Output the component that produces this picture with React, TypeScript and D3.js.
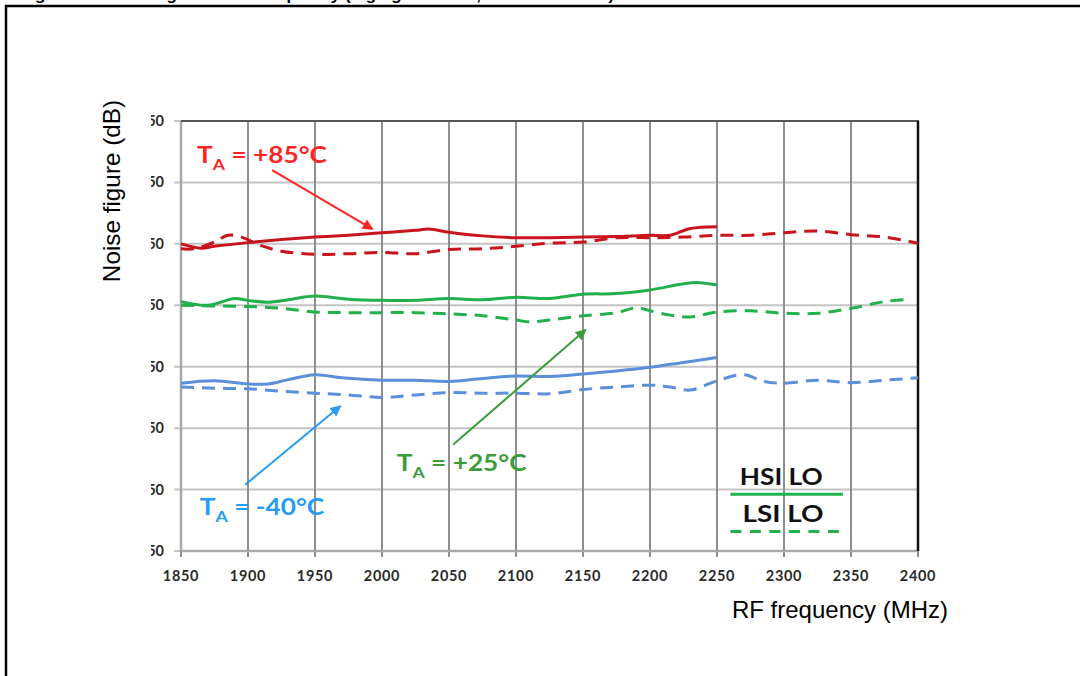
import * as d3 from 'd3'

// frequency grid (MHz) and y tick values (dB)
const xTicks = [1850, 1900, 1950, 2000, 2050, 2100, 2150, 2200, 2250, 2300, 2350, 2400]
const yTicks = [4.5, 5.5, 6.5, 7.5, 8.5, 9.5, 10.5, 11.5]

// TA = +85°C
const hot_hsi_f = [1850, 1865, 1875, 1900, 1925, 1950, 1975, 2000, 2025, 2035, 2050, 2075, 2100, 2125, 2150, 2175, 2200, 2215, 2230, 2250]
const hot_hsi_v = [9.5, 9.43, 9.46, 9.52, 9.57, 9.61, 9.64, 9.68, 9.72, 9.74, 9.69, 9.63, 9.6, 9.6, 9.61, 9.62, 9.64, 9.64, 9.75, 9.78]
const hot_lsi_f = [1850, 1860, 1875, 1885, 1895, 1910, 1925, 1950, 1975, 2000, 2025, 2050, 2075, 2100, 2125, 2150, 2175, 2200, 2225, 2250, 2275, 2300, 2325, 2350, 2375, 2400]
const hot_lsi_v = [9.42, 9.42, 9.53, 9.64, 9.61, 9.47, 9.38, 9.33, 9.34, 9.36, 9.34, 9.41, 9.42, 9.46, 9.51, 9.53, 9.6, 9.6, 9.61, 9.64, 9.64, 9.68, 9.71, 9.65, 9.61, 9.51]

// TA = +25°C
const room_hsi_f = [1850, 1870, 1890, 1900, 1915, 1930, 1950, 1975, 2000, 2025, 2050, 2075, 2100, 2125, 2150, 2175, 2200, 2225, 2235, 2250]
const room_hsi_v = [8.56, 8.5, 8.61, 8.58, 8.55, 8.59, 8.65, 8.6, 8.58, 8.58, 8.61, 8.59, 8.63, 8.61, 8.68, 8.69, 8.75, 8.85, 8.87, 8.83]
const room_lsi_f = [1850, 1875, 1900, 1925, 1950, 1975, 2000, 2025, 2050, 2075, 2100, 2110, 2125, 2150, 2175, 2190, 2200, 2215, 2230, 2250, 2275, 2300, 2325, 2350, 2375, 2395]
const room_lsi_v = [8.5, 8.49, 8.48, 8.45, 8.39, 8.38, 8.38, 8.38, 8.36, 8.33, 8.26, 8.23, 8.26, 8.33, 8.38, 8.46, 8.41, 8.34, 8.31, 8.39, 8.41, 8.37, 8.37, 8.45, 8.56, 8.6]

// TA = -40°C
const cold_hsi_f = [1850, 1875, 1900, 1915, 1930, 1950, 1970, 2000, 2025, 2050, 2075, 2100, 2125, 2150, 2175, 2200, 2225, 2250]
const cold_hsi_v = [7.23, 7.27, 7.22, 7.22, 7.29, 7.37, 7.32, 7.28, 7.28, 7.26, 7.31, 7.35, 7.34, 7.38, 7.43, 7.49, 7.57, 7.65]
const cold_lsi_f = [1850, 1875, 1900, 1925, 1950, 1975, 2000, 2025, 2050, 2075, 2100, 2125, 2150, 2175, 2200, 2215, 2230, 2250, 2270, 2285, 2300, 2325, 2350, 2375, 2400]
const cold_lsi_v = [7.17, 7.15, 7.14, 7.1, 7.07, 7.04, 7.0, 7.04, 7.08, 7.07, 7.07, 7.06, 7.13, 7.17, 7.2, 7.17, 7.12, 7.27, 7.37, 7.26, 7.23, 7.28, 7.24, 7.28, 7.32]

const series = [
  { f: hot_hsi_f, v: hot_hsi_v, color: '#c8141c', dashed: false },
  { f: hot_lsi_f, v: hot_lsi_v, color: '#c8141c', dashed: true },
  { f: room_hsi_f, v: room_hsi_v, color: '#21b04b', dashed: false },
  { f: room_lsi_f, v: room_lsi_v, color: '#21b04b', dashed: true },
  { f: cold_hsi_f, v: cold_hsi_v, color: '#5b8fda', dashed: false },
  { f: cold_lsi_f, v: cold_lsi_v, color: '#5b8fda', dashed: true },
]

// temperature callouts, in data units: label start, arrow tail, arrow tip
const callouts = [
  { label: '+85°C', color: '#ff2424', at: [1862, 10.81], from: [1918, 10.7], to: [1993, 9.74] },
  { label: '+25°C', color: '#3a9d3a', at: [2011, 5.81], from: [2053, 6.23], to: [2152, 8.1] },
  { label: '-40°C', color: '#259bf5', at: [1864, 5.09], from: [1898, 5.58], to: [1969, 6.86] },
]

const W = 1080
const H = 676
const bold = 'Lato, "Liberation Sans", sans-serif'
const arial = '"Liberation Sans", Arial, sans-serif'

export default function App() {
  const x = d3.scaleLinear().domain([1850, 2400]).range([181, 918])
  const y = d3.scaleLinear().domain([4.5, 11.5]).range([551, 121])
  const line = d3
    .line<[number, number]>()
    .x((d) => x(d[0]))
    .y((d) => y(d[1]))
    .curve(d3.curveCatmullRom.alpha(0.5))

  const [x0, x1] = x.range()
  const [yb, yt] = y.range()

  return (
    <svg
      width={W}
      height={H}
      viewBox={`0 0 ${W} ${H}`}
      style={{ position: 'absolute', left: 0, top: 0, background: '#fff' }}
    >
      <defs>
        <clipPath id="ylab">
          <rect x={151} y={0} width={30} height={H} />
        </clipPath>
        <clipPath id="title">
          <rect x={0} y={0} width={W} height={5} />
        </clipPath>
        {callouts.map((c, i) => (
          <marker
            key={i}
            id={`arr${i}`}
            viewBox="0 0 10 10"
            refX={9}
            refY={5}
            markerWidth={5.5}
            markerHeight={5.5}
            orient="auto"
          >
            <path d="M0,0 L10,5 L0,10 z" fill={c.color} />
          </marker>
        ))}
      </defs>

      {/* cropped figure caption above the frame */}
      <g clipPath="url(#title)">
        <text x={20} y={0} fontFamily={arial} fontWeight="bold" fontSize={17} fill="#000">
          Figure 24. Noise figure vs RF frequency (high gain mode, HSI and LSI LO)
        </text>
      </g>
      <path d={`M${W + 5},6 H6 V${H + 5}`} fill="none" stroke="#000" strokeWidth={2.5} />

      {/* grid */}
      {yTicks.map((t) => (
        <line key={`h${t}`} x1={x0 - 7} x2={x1} y1={y(t)} y2={y(t)} stroke="#c4c4c4" strokeWidth={2} />
      ))}
      {xTicks.map((t) => (
        <line key={`v${t}`} x1={x(t)} x2={x(t)} y1={yt} y2={yb + 6} stroke="#8e8e8e" strokeWidth={2} />
      ))}
      <line x1={x0} x2={x0} y1={yt} y2={yb} stroke="#a8a8a8" strokeWidth={2.5} />
      <line x1={x0} x2={x1} y1={yb} y2={yb} stroke="#a8a8a8" strokeWidth={2.5} />
      <line x1={x0} x2={x1 + 1} y1={yt} y2={yt} stroke="#555" strokeWidth={2} />
      <line x1={x1} x2={x1} y1={yt} y2={yb} stroke="#111" strokeWidth={2.5} />

      {/* tick labels */}
      {xTicks.map((t) => (
        <text
          key={`xl${t}`}
          x={x(t)}
          y={581}
          textAnchor="middle"
          fontFamily={bold}
          fontWeight="bold"
          fontSize={14.5}
          letterSpacing={0.7}
          fill="#2a2a2a"
        >
          {t}
        </text>
      ))}
      <g clipPath="url(#ylab)">
        {yTicks.map((t) => (
          <text
            key={`yl${t}`}
            x={164}
            y={y(t) + 5}
            textAnchor="end"
            fontFamily={bold}
            fontWeight="bold"
            fontSize={14.5}
            fill="#2a2a2a"
          >
            {t.toFixed(2)}
          </text>
        ))}
      </g>

      {/* data */}
      {series.map((s, i) => (
        <path
          key={i}
          d={line(s.f.map((f, j) => [f, s.v[j]] as [number, number])) ?? ''}
          fill="none"
          stroke={s.color}
          strokeWidth={3}
          strokeLinecap="butt"
          strokeDasharray={s.dashed ? '13 8' : undefined}
        />
      ))}

      {/* callouts */}
      {callouts.map((c, i) => (
        <g key={i}>
          <line
            x1={x(c.from[0])}
            y1={y(c.from[1])}
            x2={x(c.to[0])}
            y2={y(c.to[1])}
            stroke={c.color}
            strokeWidth={2}
            markerEnd={`url(#arr${i})`}
          />
          <g transform={`translate(${x(c.at[0])},${y(c.at[1])}) scale(1.14,1)`}>
            <text x={0} y={0} fontFamily={bold} fontWeight="bold" fontSize={23} fill={c.color}>
              T
              <tspan fontSize={15.5} dy={7}>
                A
              </tspan>
              <tspan dy={-7}>{` = ${c.label}`}</tspan>
            </text>
          </g>
        </g>
      ))}

      {/* legend */}
      <text
        x={x(2267)}
        y={y(5.575)}
        fontFamily={bold}
        fontWeight="bold"
        fontSize={22}
        fill="#111"
        textLength={83}
        lengthAdjust="spacingAndGlyphs"
      >
        HSI LO
      </text>
      <line x1={x(2260)} x2={x(2344)} y1={y(5.423)} y2={y(5.423)} stroke="#21b04b" strokeWidth={3} />
      <text
        x={x(2269)}
        y={y(4.98)}
        fontFamily={bold}
        fontWeight="bold"
        fontSize={22}
        fill="#111"
        textLength={81}
        lengthAdjust="spacingAndGlyphs"
      >
        LSI LO
      </text>
      <line
        x1={x(2260)}
        x2={x(2344)}
        y1={y(4.818)}
        y2={y(4.818)}
        stroke="#21b04b"
        strokeWidth={3}
        strokeDasharray="11 8.5"
      />

      {/* axis titles */}
      <text
        transform={`translate(120,${191}) rotate(-90)`}
        textAnchor="middle"
        fontFamily={arial}
        fontSize={24.3}
        fill="#000"
      >
        Noise figure (dB)
      </text>
      <text x={948} y={618} textAnchor="end" fontFamily={arial} fontSize={24} fill="#000">
        RF frequency (MHz)
      </text>
    </svg>
  )
}
